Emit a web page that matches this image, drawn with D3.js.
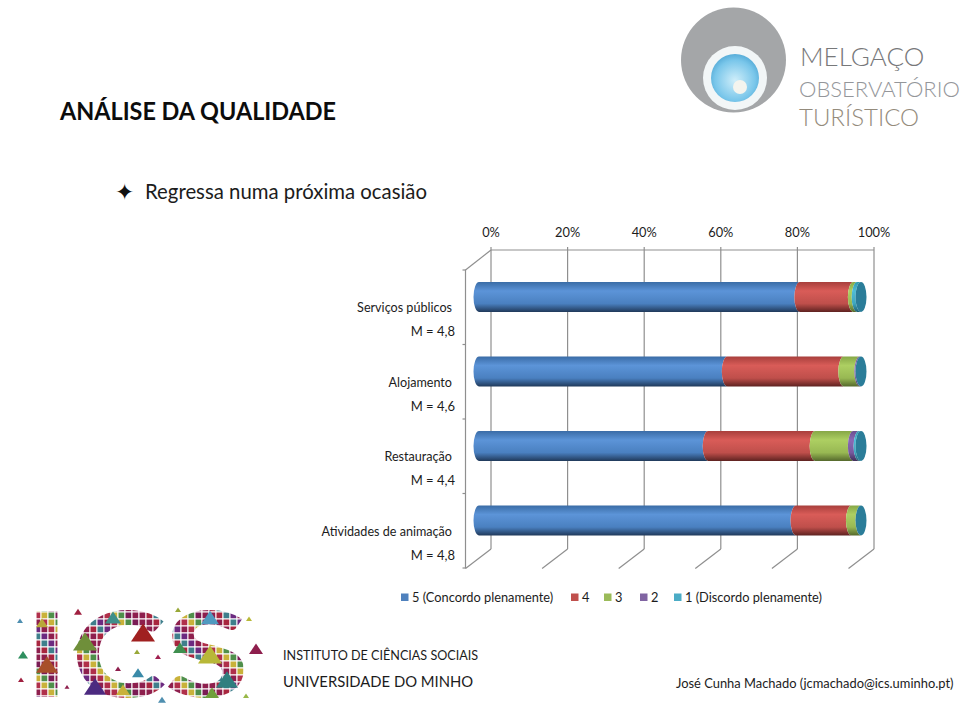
<!DOCTYPE html>
<html>
<head>
<meta charset="utf-8">
<script src="https://cdn.jsdelivr.net/npm/d3@7"></script>
<style>
  html, body { margin: 0; padding: 0; background: #fff; }
  svg { display: block; }
  text { font-family: Lato, "Open Sans", sans-serif; fill: #1c1c1c; }
</style>
</head>
<body>
<div id="chart"></div>
<script>
// chart data
const categories = ["Serviços públicos", "Alojamento", "Restauração", "Atividades de animação"];
const means = ["M = 4,8", "M = 4,6", "M = 4,4", "M = 4,8"];
const seriesNames = ["5 (Concordo plenamente)", "4", "3", "2", "1 (Discordo plenamente)"];
const s5 = [84, 65, 60, 83];
const s4 = [14, 30.5, 28, 14.5];
const s3 = [1, 4.2, 10, 2.5];
const s2 = [0, 0.3, 1.5, 0];
const s1 = [1, 0, 0.5, 0];
const ticks = [0, 20, 40, 60, 80, 100];

const seriesValues = [s5, s4, s3, s2, s1];
// top edge, highlight, body, bottom edge
const seriesColors = [
  ["#3a6ca6", "#5c94d8", "#4a80c0", "#20395a"],
  ["#a83f3c", "#d95c58", "#bf4f4b", "#5e2220"],
  ["#86a746", "#adcf62", "#98b853", "#55692c"],
  ["#6a4f8f", "#8a69b5", "#77599e", "#402f58"],
  ["#2f97ae", "#4fbcd6", "#3ea6bf", "#1d5f70"]
];
const legendSwatch = ["#4f81bd", "#c0504d", "#9bbb59", "#8064a2", "#4bacc6"];
const capColor = "#2b7d99";
const gridColor = "#8f8f8f";

const width = 960, height = 713;
const svg = d3.select("#chart").append("svg").attr("width", width).attr("height", height);
const defs = svg.append("defs");

function label(x, y, str, size, len, anchor, weight) {
  const t = svg.append("text").attr("x", x).attr("y", y).attr("font-size", size).text(str);
  if (anchor) t.attr("text-anchor", anchor);
  if (weight) t.attr("font-weight", weight);
  if (len) t.attr("textLength", len).attr("lengthAdjust", "spacingAndGlyphs");
  return t;
}

// headings
label(60, 120, "ANÁLISE DA QUALIDADE", 24, 276, null, "bold").style("fill", "#0c0c0c");
label(115, 200, "✦", 23).style("font-family", "DejaVu Sans").style("fill", "#111");
label(145, 199, "Regressa numa próxima ocasião", 20.5, 282);

// 3d wall geometry
const depthX = -25.5, depthY = 19.5;
const wallTop = 250, wallBottom = 549;
const gridX = d3.scaleLinear().domain([0, 100]).range([491, 874]);
const barX = d3.scaleLinear().domain([0, 100]).range([479, 861]);
const rowY = d3.scaleBand().domain(categories).range([270, 568]);
const barH = 30, rx = 5.5;

const grid = svg.append("g").attr("stroke", gridColor).attr("stroke-width", 1.2).attr("fill", "none");
grid.append("line").attr("x1", gridX(0)).attr("x2", gridX(100)).attr("y1", wallTop).attr("y2", wallTop);
ticks.forEach(t => {
  grid.append("line").attr("x1", gridX(t)).attr("x2", gridX(t)).attr("y1", wallTop - 3).attr("y2", wallBottom);
  grid.append("line").attr("x1", gridX(t)).attr("y1", wallBottom)
    .attr("x2", gridX(t) + depthX).attr("y2", wallBottom + depthY);
  label(gridX(t), 237, t + "%", 12.8, null, "middle");
});
grid.append("line").attr("x1", gridX(0)).attr("y1", wallTop).attr("x2", gridX(0) + depthX).attr("y2", wallTop + depthY + 0.5);
grid.append("line").attr("x1", gridX(0) + depthX).attr("x2", gridX(0) + depthX).attr("y1", wallTop + depthY).attr("y2", wallBottom + depthY);
[270, 344.5, 419, 493.5, 568].forEach(y => {
  grid.append("line").attr("x1", gridX(0) + depthX - 3).attr("x2", gridX(0) + depthX).attr("y1", y).attr("y2", y);
});

// one vertical gradient per series
seriesColors.forEach((c, i) => {
  const g = defs.append("linearGradient").attr("id", "grad" + i)
    .attr("x1", 0).attr("x2", 0).attr("y1", 0).attr("y2", 1);
  [[0, c[0]], [0.3, c[1]], [0.72, c[2]], [1, c[3]]].forEach(d => {
    g.append("stop").attr("offset", d[0]).attr("stop-color", d[1]);
  });
});

// cylinders
categories.forEach((cat, r) => {
  const top = rowY(cat) + 12;
  const bottom = top + barH;
  const row = svg.append("g");
  let acc = 0;
  seriesValues.forEach((vals, i) => {
    const x0 = barX(acc), x1 = barX(acc + vals[r]);
    acc += vals[r];
    if (vals[r] <= 0) return;
    row.append("path")
      .attr("d", `M${x0},${top} A${rx},${barH / 2} 0 0 0 ${x0},${bottom} L${x1},${bottom} A${rx},${barH / 2} 0 0 1 ${x1},${top} Z`)
      .attr("fill", `url(#grad${i})`);
  });
  row.append("ellipse").attr("cx", barX(100)).attr("cy", (top + bottom) / 2)
    .attr("rx", rx).attr("ry", barH / 2).attr("fill", capColor);

  label(452, top + 30, cat, 12.6, null, "end");
  label(455, top + 54, means[r], 13, null, "end");
});

// legend
const legendX = [401, 571, 604, 640, 674];
seriesNames.forEach((name, i) => {
  svg.append("rect").attr("x", legendX[i]).attr("y", 593.5).attr("width", 7.5).attr("height", 7.5).attr("fill", legendSwatch[i]);
  label(legendX[i] + 11, 602, name, 12.8);
});

// footer
label(283, 660, "INSTITUTO DE CIÊNCIAS SOCIAIS", 12.6);
label(283, 687, "UNIVERSIDADE DO MINHO", 14.8);
label(676, 688, "José Cunha Machado (jcmachado@ics.uminho.pt)", 12.9);

// Melgaço logo
const blue = defs.append("radialGradient").attr("id", "logoBlue").attr("cx", 0.5).attr("cy", 0.55).attr("r", 0.6);
blue.append("stop").attr("offset", 0).attr("stop-color", "#cfeefa");
blue.append("stop").attr("offset", 0.7).attr("stop-color", "#79c6ea");
blue.append("stop").attr("offset", 1).attr("stop-color", "#4aa3d2");
svg.append("circle").attr("cx", 733.5).attr("cy", 60).attr("r", 52.5).attr("fill", "#a4a6a8");
svg.append("circle").attr("cx", 735).attr("cy", 78).attr("r", 32).attr("fill", "#f2f6f7");
svg.append("circle").attr("cx", 735).attr("cy", 78).attr("r", 24).attr("fill", "url(#logoBlue)");
svg.append("circle").attr("cx", 740).attr("cy", 87).attr("r", 7).attr("fill", "#f4f4ee");
label(800, 66, "MELGAÇO", 26).style("fill", "#77787a").style("font-weight", 300);
label(799, 97, "OBSERVATÓRIO", 22).style("fill", "#94969a").style("font-weight", 300);
label(799, 126, "TURÍSTICO", 24).style("fill", "#948b7c").style("font-weight", 300);

// ICS logo: heavy letters clipped over a mosaic of triangles
const mosaic = ["#8e1f4d", "#a8263f", "#7a1c55", "#b0304a", "#3f7f8c", "#8e1f4d", "#c9b23a", "#6c2a80", "#8e1f4d", "#4f8f4a"];
const clip = defs.append("clipPath").attr("id", "icsClip");
[["I", 26, 42], ["C", 72, 94], ["S", 165, 84]].forEach(d => {
  clip.append("text").attr("x", d[1]).attr("y", 697).attr("font-size", 118).attr("font-weight", 900)
    .attr("textLength", d[2]).attr("lengthAdjust", "spacingAndGlyphs").text(d[0]);
});
const tiles = svg.append("g").attr("clip-path", "url(#icsClip)");
const step = 7;
tiles.append("rect").attr("x", 20).attr("y", 605).attr("width", 235).attr("height", 100).attr("fill", "#8e1f4d");
d3.range(0, 34).forEach(ix => d3.range(0, 15).forEach(iy => {
  const x = 20 + ix * step, y = 605 + iy * step;
  const c = mosaic[(ix * 3 + iy * 7) % mosaic.length];
  tiles.append("path").attr("d", `M${x},${y} h${step} v${step} h${-step} Z`)
    .attr("fill", c).attr("stroke", "#fff").attr("stroke-width", 1);
}));
// larger shards and stray pieces around the letters
const shards = [
  [85, 642, 12, "#6f8f3a"], [113, 618, 8, "#3f8f8a"], [143, 633, 12, "#a02020"], [95, 687, 11, "#4c2a80"],
  [47, 665, 11, "#a8502a"], [42, 623, 6, "#b8a838"], [138, 673, 6, "#3a8aa8"], [123, 690, 7, "#c9b23a"],
  [210, 618, 9, "#4f9ac0"], [210, 655, 12, "#b8b838"], [227, 680, 11, "#2f7f7f"], [180, 648, 7, "#3f8f4f"],
  [212, 693, 7, "#6f9f3a"], [23, 655, 5, "#2f8f5f"], [256, 649, 7, "#8e1f4d"], [78, 612, 4, "#a02040"],
  [20, 621, 3, "#4f8fb0"], [162, 700, 4, "#4f8fb0"], [249, 619, 3, "#b8b838"], [137, 652, 3, "#98a838"],
  [158, 657, 3, "#a02050"], [118, 669, 3, "#8e1f4d"], [21, 680, 3, "#a02040"], [246, 696, 3, "#98b848"],
  [178, 610, 3, "#98a838"], [67, 687, 2.5, "#8e1f4d"]
];
svg.append("g").selectAll("path").data(shards).join("path")
  .attr("d", d => `M${d[0] - d[2]},${d[1] + d[2] * 0.7} L${d[0]},${d[1] - d[2] * 0.8} L${d[0] + d[2]},${d[1] + d[2] * 0.7} Z`)
  .attr("fill", d => d[3]);
</script>
</body>
</html>
